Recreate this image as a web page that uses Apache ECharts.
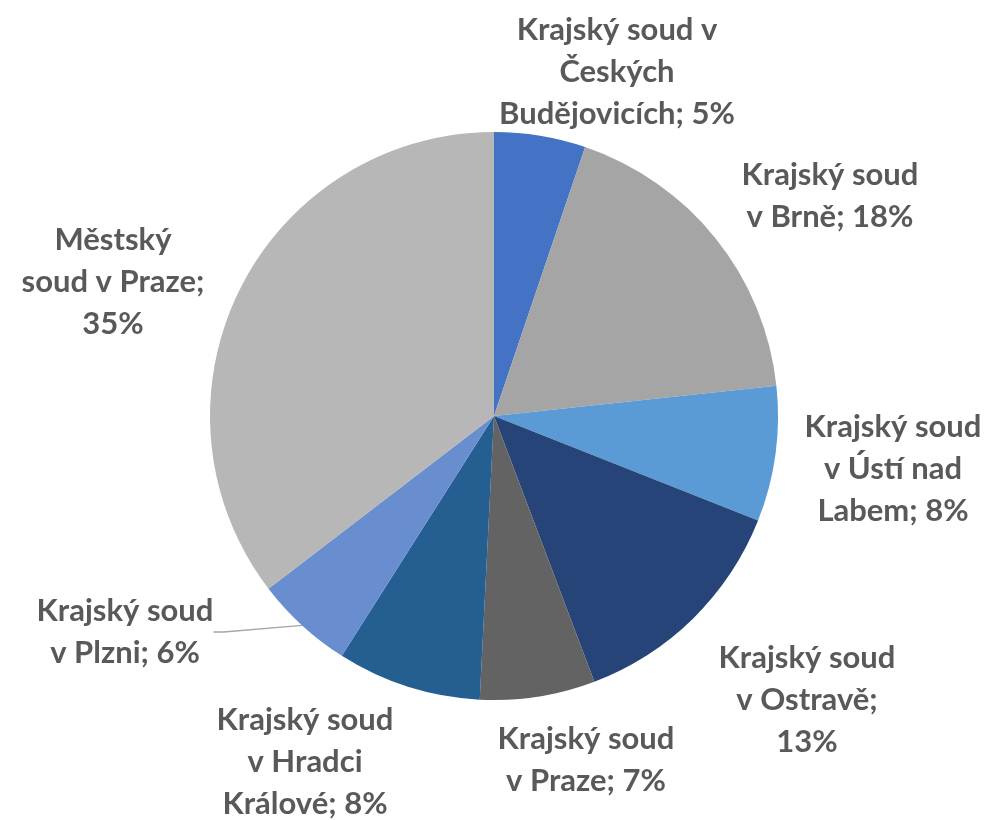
<!DOCTYPE html>
<html>
<head>
<meta charset="utf-8">
<script src="https://cdn.jsdelivr.net/npm/echarts@6/dist/echarts.min.js"></script>
<style>html,body{margin:0;padding:0;background:#fff}#c{width:991px;height:820px}</style>
</head>
<body>
<div id="c"></div>
<script>
const categories = [
  'Krajský soud v Českých Budějovicích',
  'Krajský soud v Brně',
  'Krajský soud v Ústí nad Labem',
  'Krajský soud v Ostravě',
  'Krajský soud v Praze',
  'Krajský soud v Hradci Králové',
  'Krajský soud v Plzni',
  'Městský soud v Praze'
];
const values = [5.2, 18.1, 7.7, 13.25, 6.55, 8.2, 5.6, 35.4];
const labelLines = [
  'Krajský soud v\nČeských\nBudějovicích',
  'Krajský soud\nv Brně',
  'Krajský soud\nv Ústí nad\nLabem',
  'Krajský soud\nv Ostravě;\n',
  'Krajský soud\nv Praze',
  'Krajský soud\nv Hradci\nKrálové',
  'Krajský soud\nv Plzni',
  'Městský\nsoud v Praze;\n'
];
const colors = ['#4472C4','#A5A5A5','#5B9BD5','#264478','#636363','#255E91','#698ED0','#B7B7B7'];
const labelPos = [
  [617, 72], [830, 196], [893, 469], [807, 700], [586, 760], [305, 762], [125, 632], [113, 282]
];

const chart = echarts.init(document.getElementById('c'));
chart.setOption({
  animation: false,
  series: [{
    type: 'pie',
    center: [494, 416],
    radius: 284,
    startAngle: 90,
    clockwise: true,
    data: categories.map((n, i) => ({
      name: n,
      value: values[i],
      itemStyle: { color: colors[i] },
      labelLine: { show: i === 6 }
    })),
    itemStyle: { borderColor: '#fff', borderWidth: 0 },
    label: {
      show: true,
      position: 'outside',
      fontFamily: 'Lato',
      fontWeight: 'bold',
      fontSize: 31,
      lineHeight: 42,
      color: '#595959',
      align: 'center',
      formatter: p => {
        const t = labelLines[p.dataIndex];
        const pct = Math.round(p.percent) + '%';
        return t.endsWith('\n') ? t + pct : t + '; ' + pct;
      }
    },
    labelLine: { lineStyle: { color: '#A6A6A6', width: 1.3 }, length: 10, length2: 10 },
    labelLayout: p => ({
      x: labelPos[p.dataIndex][0],
      y: labelPos[p.dataIndex][1],
      align: 'center',
      verticalAlign: 'middle'
    })
  }]
});
</script>
</body>
</html>
